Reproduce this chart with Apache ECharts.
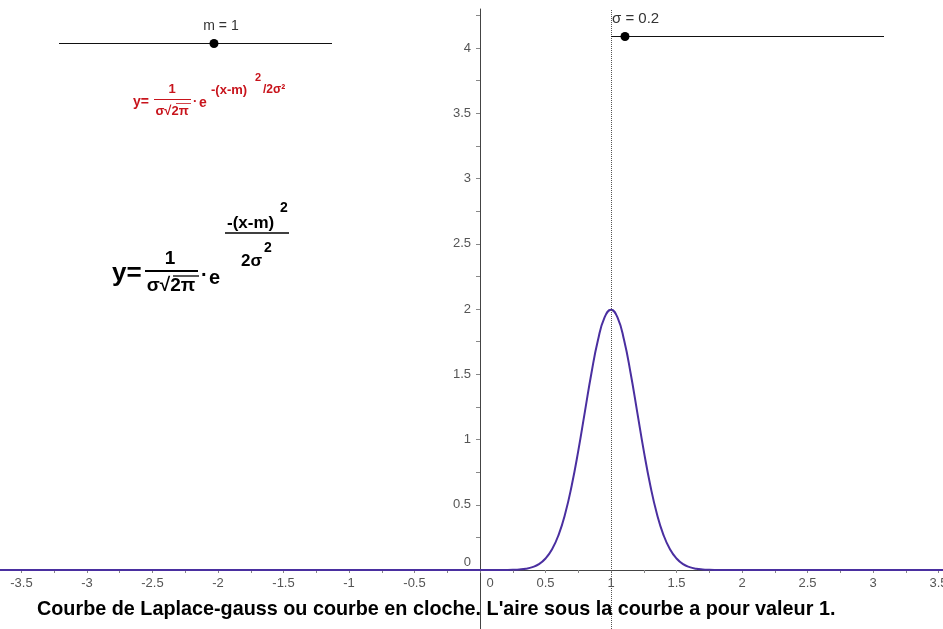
<!DOCTYPE html>
<html><head><meta charset="utf-8">
<script src="https://cdn.jsdelivr.net/npm/echarts@6/dist/echarts.min.js"></script>
<style>html,body{margin:0;padding:0;background:#fff}#c{width:943px;height:629px}</style>
</head><body><div id="c"></div>
<script>
// Curve points (m = 1, sigma = 0.2)
const curveX = [-3.7, 0.1, 0.15, 0.2, 0.25, 0.3, 0.35, 0.4, 0.45, 0.5, 0.55, 0.6, 0.65, 0.7, 0.75, 0.8, 0.85, 0.9, 0.95, 1.0,
  1.05, 1.1, 1.15, 1.2, 1.25, 1.3, 1.35, 1.4, 1.45, 1.5, 1.55, 1.6, 1.65, 1.7, 1.75, 1.8, 1.85, 1.9, 3.6];
const curveY = [0, 0, 0.0001, 0.0007, 0.002, 0.0044, 0.010, 0.022, 0.045, 0.088, 0.159, 0.27, 0.431, 0.648, 0.913, 1.21, 1.506, 1.76, 1.934, 1.995,
  1.934, 1.76, 1.506, 1.21, 0.913, 0.648, 0.431, 0.27, 0.159, 0.088, 0.045, 0.022, 0.010, 0.0044, 0.002, 0.0007, 0.0001, 0, 0];
const xTickLabels = [-3.5, -3, -2.5, -2, -1.5, -1, -0.5, 0, 0.5, 1, 1.5, 2, 2.5, 3, 3.5];
const xMinorTicks = [-3.5, -3.25, -3, -2.75, -2.5, -2.25, -2, -1.75, -1.5, -1.25, -1, -0.75, -0.5, -0.25, 0, 0.25, 0.5, 0.75, 1, 1.25, 1.5, 1.75, 2, 2.25, 2.5, 2.75, 3, 3.25, 3.5];
const yTickLabels = [0, 0.5, 1, 1.5, 2, 2.5, 3, 3.5, 4];
const yMinorTicks = [0.25, 0.5, 0.75, 1, 1.25, 1.5, 1.75, 2, 2.25, 2.5, 2.75, 3, 3.25, 3.5, 3.75, 4, 4.25];
const meanM = 1;
const sliderLabels = ['m = 1', 'σ = 0.2'];
const caption = "Courbe de Laplace-gauss ou courbe en cloche. L'aire sous la courbe a pour valeur 1.";

const curve = curveX.map((x, i) => [x, curveY[i]]);
const FF = '"Liberation Sans", Arial, sans-serif';
const RED = '#c8141c';
const labelColor = '#555';

const chart = echarts.init(document.getElementById('c'), null, {renderer: 'canvas'});
const T = (text, x, y, size, color, align, bold) => ({
  type: 'text', x: x, y: y, z: 10,
  style: {text: text, fill: color || '#000', font: (bold === false ? '' : 'bold ') + size + 'px ' + FF,
          align: align || 'left', verticalAlign: 'middle'}
});
const L = (x1, y1, x2, y2, color, w) => ({type: 'line', z: 10, shape: {x1, y1, x2, y2}, style: {stroke: color, lineWidth: w}});

chart.setOption({
  animation: false,
  backgroundColor: '#fff',
  grid: {left: 0, right: 0, top: 9, bottom: 0, containLabel: false, outerBoundsMode: 'none'},
  xAxis: {
    type: 'value', min: -3.664, max: 3.534, position: 'bottom', offset: -59,
    axisLine: {onZero: false, lineStyle: {color: '#444', width: 1}},
    axisTick: {show: true, customValues: xMinorTicks, length: 3, lineStyle: {color: '#888'}},
    axisLabel: {customValues: xTickLabels, color: labelColor, fontSize: 13, fontFamily: FF, margin: 7,
      formatter: v => v === 0 ? '{z|0}' : String(v),
      rich: {z: {padding: [0, 0, 0, 20], fontSize: 13, color: labelColor, fontFamily: FF}}},
    splitLine: {show: false}
  },
  yAxis: {
    type: 'value', min: -0.452, max: 4.299, position: 'left', offset: -480,
    axisLine: {onZero: false, lineStyle: {color: '#444', width: 1}},
    axisTick: {show: true, customValues: yMinorTicks, length: 4, lineStyle: {color: '#888'}},
    axisLabel: {customValues: yTickLabels, color: labelColor, fontSize: 13, fontFamily: FF, margin: 9,
      formatter: v => v === 0 ? '{z|0}' : String(v),
      rich: {z: {padding: [0, 0, 16, 0], fontSize: 13, color: labelColor, fontFamily: FF}}},
    splitLine: {show: false}
  },
  series: [{
    type: 'line', data: curve, smooth: 0.5, showSymbol: false, symbol: 'none',
    lineStyle: {color: '#4a2fa0', width: 2}, z: 3,
    markLine: {
      silent: true, symbol: 'none', label: {show: false},
      lineStyle: {color: '#555', type: 'dotted', width: 1},
      data: [{xAxis: meanM}]
    }
  }],
  graphic: [
    // m slider
    L(59, 43.5, 332, 43.5, '#111', 1),
    {type: 'circle', z: 11, shape: {cx: 214, cy: 43.5, r: 4.5}, style: {fill: '#000'}},
    T(sliderLabels[0], 221, 26, 14, '#333', 'center', false),
    // sigma slider
    L(611, 36.5, 884, 36.5, '#111', 1),
    {type: 'circle', z: 11, shape: {cx: 625, cy: 36.5, r: 4.5}, style: {fill: '#000'}},
    T(sliderLabels[1], 612, 19, 15, '#333', 'left', false),
    // small red formula
    T('y=', 133, 102, 14, RED),
    T('1', 172, 89, 13, RED, 'center'),
    L(154, 99.5, 191, 99.5, RED, 1),
    T('σ√2π', 172, 111, 13, RED, 'center'),
    L(176, 103.5, 191, 103.5, RED, 0.8),
    T('·', 193, 101, 13, RED),
    T('e', 199, 103, 14, RED),
    T('-(x-m)', 211, 90, 13, RED),
    T('2', 255, 78, 11, RED),
    T('/2σ²', 263, 90, 12, RED),
    // big black formula
    T('y=', 112, 274, 26, '#000'),
    T('1', 170, 259, 19, '#000', 'center'),
    L(145, 271, 198, 271, '#000', 2),
    T('σ√2π', 171, 286, 19, '#000', 'center'),
    L(173, 276, 199, 276, '#000', 1.3),
    T('·', 201, 275, 20, '#000'),
    T('e', 209, 278, 20, '#000'),
    T('-(x-m)', 227, 223, 17, '#000'),
    T('2', 280, 208, 14, '#000'),
    L(225, 233, 289, 233, '#000', 1.5),
    T('2σ', 241, 261, 17, '#000'),
    T('2', 264, 248, 14, '#000'),
    // caption
    T(caption, 37, 610, 19.8, '#000')
  ]
});
</script></body></html>
